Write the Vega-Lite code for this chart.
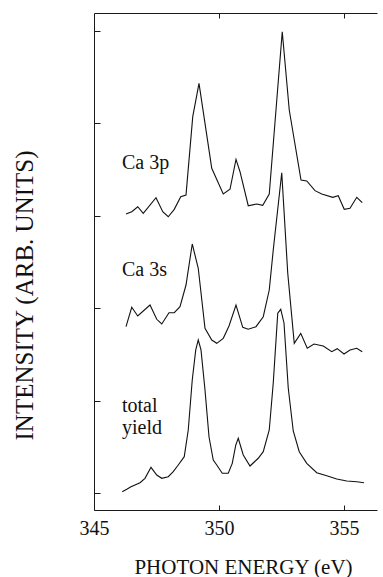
{
  "$schema": "https://vega.github.io/schema/vega-lite/v6.json",
  "width": 283,
  "height": 497,
  "autosize": {"type": "none"},
  "padding": {"left": 94, "top": 13, "right": 6, "bottom": 67},
  "background": "white",
  "config": {
    "view": {"stroke": null},
    "axis": {"grid": false, "domain": true, "ticks": true, "domainColor": "#1a1a1a", "tickColor": "#1a1a1a", "domainWidth": 1, "tickWidth": 1, "labelFont": "Liberation Serif", "titleFont": "Liberation Serif", "titleFontWeight": "normal", "labelColor": "#111", "titleColor": "#111"}
  },
  "resolve": {"axis": {"x": "independent"}},
  "datasets": {
    "curves": [
      {"series": "Ca 3p", "energy": 346.28, "intensity": 3.019},
      {"series": "Ca 3p", "energy": 346.51, "intensity": 3.044},
      {"series": "Ca 3p", "energy": 346.75, "intensity": 3.098},
      {"series": "Ca 3p", "energy": 346.97, "intensity": 3.027},
      {"series": "Ca 3p", "energy": 347.48, "intensity": 3.196},
      {"series": "Ca 3p", "energy": 347.75, "intensity": 3.044},
      {"series": "Ca 3p", "energy": 347.97, "intensity": 2.990},
      {"series": "Ca 3p", "energy": 348.21, "intensity": 3.070},
      {"series": "Ca 3p", "energy": 348.47, "intensity": 3.207},
      {"series": "Ca 3p", "energy": 348.68, "intensity": 3.225},
      {"series": "Ca 3p", "energy": 348.95, "intensity": 4.073},
      {"series": "Ca 3p", "energy": 349.20, "intensity": 4.434},
      {"series": "Ca 3p", "energy": 349.35, "intensity": 4.163},
      {"series": "Ca 3p", "energy": 349.71, "intensity": 3.514},
      {"series": "Ca 3p", "energy": 350.17, "intensity": 3.236},
      {"series": "Ca 3p", "energy": 350.44, "intensity": 3.287},
      {"series": "Ca 3p", "energy": 350.68, "intensity": 3.611},
      {"series": "Ca 3p", "energy": 350.84, "intensity": 3.477},
      {"series": "Ca 3p", "energy": 351.17, "intensity": 3.109},
      {"series": "Ca 3p", "energy": 351.51, "intensity": 3.128},
      {"series": "Ca 3p", "energy": 351.75, "intensity": 3.114},
      {"series": "Ca 3p", "energy": 352.01, "intensity": 3.236},
      {"series": "Ca 3p", "energy": 352.53, "intensity": 4.992},
      {"series": "Ca 3p", "energy": 352.81, "intensity": 4.145},
      {"series": "Ca 3p", "energy": 353.28, "intensity": 3.387},
      {"series": "Ca 3p", "energy": 353.51, "intensity": 3.377},
      {"series": "Ca 3p", "energy": 353.84, "intensity": 3.272},
      {"series": "Ca 3p", "energy": 354.11, "intensity": 3.236},
      {"series": "Ca 3p", "energy": 354.55, "intensity": 3.200},
      {"series": "Ca 3p", "energy": 354.77, "intensity": 3.218},
      {"series": "Ca 3p", "energy": 355.01, "intensity": 3.070},
      {"series": "Ca 3p", "energy": 355.24, "intensity": 3.081},
      {"series": "Ca 3p", "energy": 355.51, "intensity": 3.200},
      {"series": "Ca 3p", "energy": 355.73, "intensity": 3.142},

      {"series": "Ca 3s", "energy": 346.28, "intensity": 1.800},
      {"series": "Ca 3s", "energy": 346.51, "intensity": 2.010},
      {"series": "Ca 3s", "energy": 346.75, "intensity": 1.916},
      {"series": "Ca 3s", "energy": 347.24, "intensity": 2.035},
      {"series": "Ca 3s", "energy": 347.51, "intensity": 1.880},
      {"series": "Ca 3s", "energy": 347.71, "intensity": 1.829},
      {"series": "Ca 3s", "energy": 348.00, "intensity": 1.951},
      {"series": "Ca 3s", "energy": 348.21, "intensity": 1.951},
      {"series": "Ca 3s", "energy": 348.44, "intensity": 2.016},
      {"series": "Ca 3s", "energy": 348.68, "intensity": 2.251},
      {"series": "Ca 3s", "energy": 348.93, "intensity": 2.695},
      {"series": "Ca 3s", "energy": 349.17, "intensity": 2.432},
      {"series": "Ca 3s", "energy": 349.44, "intensity": 1.782},
      {"series": "Ca 3s", "energy": 349.71, "intensity": 1.656},
      {"series": "Ca 3s", "energy": 349.91, "intensity": 1.620},
      {"series": "Ca 3s", "energy": 350.17, "intensity": 1.674},
      {"series": "Ca 3s", "energy": 350.40, "intensity": 1.807},
      {"series": "Ca 3s", "energy": 350.68, "intensity": 2.035},
      {"series": "Ca 3s", "energy": 350.95, "intensity": 1.793},
      {"series": "Ca 3s", "energy": 351.17, "intensity": 1.772},
      {"series": "Ca 3s", "energy": 351.48, "intensity": 1.800},
      {"series": "Ca 3s", "energy": 351.77, "intensity": 1.908},
      {"series": "Ca 3s", "energy": 352.01, "intensity": 2.197},
      {"series": "Ca 3s", "energy": 352.17, "intensity": 2.630},
      {"series": "Ca 3s", "energy": 352.51, "intensity": 3.466},
      {"series": "Ca 3s", "energy": 352.75, "intensity": 2.378},
      {"series": "Ca 3s", "energy": 353.01, "intensity": 1.620},
      {"series": "Ca 3s", "energy": 353.27, "intensity": 1.728},
      {"series": "Ca 3s", "energy": 353.53, "intensity": 1.566},
      {"series": "Ca 3s", "energy": 353.80, "intensity": 1.613},
      {"series": "Ca 3s", "energy": 354.17, "intensity": 1.591},
      {"series": "Ca 3s", "energy": 354.51, "intensity": 1.529},
      {"series": "Ca 3s", "energy": 354.73, "intensity": 1.562},
      {"series": "Ca 3s", "energy": 355.00, "intensity": 1.504},
      {"series": "Ca 3s", "energy": 355.24, "intensity": 1.548},
      {"series": "Ca 3s", "energy": 355.51, "intensity": 1.566},
      {"series": "Ca 3s", "energy": 355.73, "intensity": 1.529},

      {"series": "total yield", "energy": 346.13, "intensity": 0.014},
      {"series": "total yield", "energy": 346.31, "intensity": 0.040},
      {"series": "total yield", "energy": 346.48, "intensity": 0.068},
      {"series": "total yield", "energy": 346.64, "intensity": 0.087},
      {"series": "total yield", "energy": 346.84, "intensity": 0.111},
      {"series": "total yield", "energy": 347.04, "intensity": 0.159},
      {"series": "total yield", "energy": 347.28, "intensity": 0.278},
      {"series": "total yield", "energy": 347.51, "intensity": 0.195},
      {"series": "total yield", "energy": 347.71, "intensity": 0.159},
      {"series": "total yield", "energy": 347.97, "intensity": 0.176},
      {"series": "total yield", "energy": 348.17, "intensity": 0.231},
      {"series": "total yield", "energy": 348.37, "intensity": 0.303},
      {"series": "total yield", "energy": 348.61, "intensity": 0.393},
      {"series": "total yield", "energy": 348.77, "intensity": 0.682},
      {"series": "total yield", "energy": 348.93, "intensity": 1.223},
      {"series": "total yield", "energy": 349.07, "intensity": 1.548},
      {"series": "total yield", "energy": 349.17, "intensity": 1.656},
      {"series": "total yield", "energy": 349.28, "intensity": 1.548},
      {"series": "total yield", "energy": 349.44, "intensity": 1.115},
      {"series": "total yield", "energy": 349.60, "intensity": 0.609},
      {"series": "total yield", "energy": 349.77, "intensity": 0.357},
      {"series": "total yield", "energy": 349.91, "intensity": 0.303},
      {"series": "total yield", "energy": 350.13, "intensity": 0.213},
      {"series": "total yield", "energy": 350.37, "intensity": 0.213},
      {"series": "total yield", "energy": 350.53, "intensity": 0.321},
      {"series": "total yield", "energy": 350.67, "intensity": 0.519},
      {"series": "total yield", "energy": 350.77, "intensity": 0.592},
      {"series": "total yield", "energy": 350.97, "intensity": 0.411},
      {"series": "total yield", "energy": 351.24, "intensity": 0.292},
      {"series": "total yield", "energy": 351.57, "intensity": 0.376},
      {"series": "total yield", "energy": 351.77, "intensity": 0.447},
      {"series": "total yield", "energy": 352.01, "intensity": 0.682},
      {"series": "total yield", "energy": 352.17, "intensity": 1.190},
      {"series": "total yield", "energy": 352.35, "intensity": 1.945},
      {"series": "total yield", "energy": 352.47, "intensity": 1.988},
      {"series": "total yield", "energy": 352.60, "intensity": 1.840},
      {"series": "total yield", "energy": 352.77, "intensity": 1.136},
      {"series": "total yield", "energy": 352.97, "intensity": 0.671},
      {"series": "total yield", "energy": 353.21, "intensity": 0.447},
      {"series": "total yield", "energy": 353.51, "intensity": 0.321},
      {"series": "total yield", "energy": 353.91, "intensity": 0.220},
      {"series": "total yield", "energy": 354.31, "intensity": 0.187},
      {"series": "total yield", "energy": 354.71, "intensity": 0.152},
      {"series": "total yield", "energy": 355.11, "intensity": 0.130},
      {"series": "total yield", "energy": 355.51, "intensity": 0.122},
      {"series": "total yield", "energy": 355.80, "intensity": 0.111}
    ],
    "labels": [
      {"label": "Ca 3p", "energy": 346.12, "intensity": 3.506},
      {"label": "Ca 3s", "energy": 346.12, "intensity": 2.348},
      {"label": "total", "energy": 346.12, "intensity": 0.877},
      {"label": "yield", "energy": 346.12, "intensity": 0.639}
    ]
  },
  "layer": [
    {
      "data": {"name": "curves"},
      "mark": {"type": "line", "color": "#111", "strokeWidth": 1.1, "clip": true},
      "encoding": {
        "x": {
          "field": "energy", "type": "quantitative",
          "scale": {"domain": [345, 356.32], "nice": false, "zero": false},
          "axis": {"orient": "bottom", "values": [345, 350, 355], "tickSize": -5, "labelFontSize": 20, "labelBaseline": "alphabetic", "labelPadding": 29, "format": "d", "labelFlush": false,
                   "title": "PHOTON ENERGY (eV)", "titleFontSize": 21, "titleX": 149, "titleY": 63, "titleBaseline": "alphabetic", "titleAnchor": null}
        },
        "y": {
          "field": "intensity", "type": "quantitative",
          "scale": {"domain": [-0.184, 5.195], "nice": false, "zero": false},
          "axis": {"orient": "left", "values": [0, 1, 2, 3, 4, 5], "tickSize": -6, "labels": false,
                   "title": "INTENSITY (ARB. UNITS)", "titleFontSize": 25, "titleAngle": -90, "titleX": -70, "titleY": 282, "titleAlign": "center", "titleBaseline": "middle"}
        },
        "detail": {"field": "series", "type": "nominal"}
      }
    },
    {
      "data": {"name": "labels"},
      "mark": {"type": "text", "align": "left", "baseline": "alphabetic", "font": "Liberation Serif", "fontSize": 20, "color": "#111"},
      "encoding": {
        "x": {"field": "energy", "type": "quantitative", "axis": {"orient": "top", "values": [350, 355], "tickSize": -5, "labels": false, "title": null}},
        "y": {"field": "intensity", "type": "quantitative"},
        "text": {"field": "label"}
      }
    }
  ]
}
